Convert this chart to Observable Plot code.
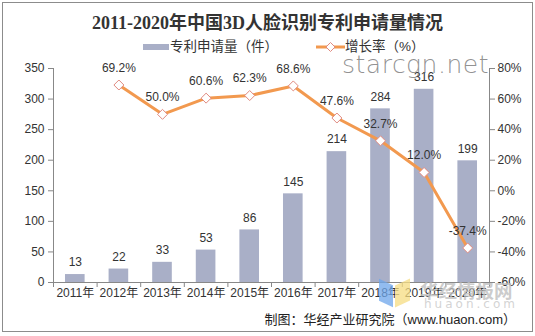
<!DOCTYPE html>
<html><head><meta charset="utf-8">
<script src="https://cdn.jsdelivr.net/npm/d3@7"></script>
<script src="https://cdn.jsdelivr.net/npm/@observablehq/plot@0.6"></script>
<style>
html,body{margin:0;padding:0;background:#fff;}
#wrap{position:relative;width:535px;height:336px;overflow:hidden;font-family:"Liberation Sans","Noto Sans CJK SC",sans-serif;}
#border{position:absolute;left:2px;top:2px;width:529px;height:328px;border:1px solid #8c8c8c;}
#title{position:absolute;left:0;top:8px;width:535px;text-align:center;font-family:"Liberation Serif","Noto Sans CJK SC",serif;font-weight:bold;font-size:18px;color:#333;}
.leg{position:absolute;top:38px;font-size:13.5px;color:#333;line-height:18px;white-space:nowrap;}
#chart{position:absolute;left:0;top:58px;}
#footer{position:absolute;right:19px;top:309px;font-size:13px;color:#222;white-space:nowrap;font-family:"Liberation Sans","Noto Sans CJK SC",sans-serif;}
.wm{position:absolute;white-space:nowrap;pointer-events:none;}
</style></head>
<body><div id="wrap">
<div id="border"></div>
<div id="title"></div>
<div id="legend"></div>
<div id="chart"></div>
<div class="wm" id="wm1" style="left:342px;top:50px;font-family:'DejaVu Sans';font-size:25px;color:rgba(110,110,110,0.75);font-weight:300;letter-spacing:0.5px;"></div>
<div class="wm" style="left:379px;top:282px;width:14px;height:22px;background:rgba(110,165,235,0.75);transform:skewY(25deg);"></div>
<div class="wm" style="left:395px;top:282px;width:15px;height:22px;background:rgba(245,220,130,0.75);transform:skewY(-25deg);"></div>
<div class="wm" id="wm2" style="left:420px;top:277px;font-family:'Noto Sans CJK SC';font-weight:bold;font-size:18.5px;color:rgba(190,190,190,0.8);"></div>
<div class="wm" id="wm3" style="left:424px;top:297px;font-family:'DejaVu Sans';font-size:12px;letter-spacing:3px;color:rgba(200,200,200,0.8);"></div>
<div id="footer"></div>
</div>
<script>
const titleText = "2011-2020年中国3D人脸识别专利申请量情况";
const barName = "专利申请量（件）";
const lineName = "增长率（%）";
const footerText = "制图：华经产业研究院（www.huaon.com）";
const years = ["2011年","2012年","2013年","2014年","2015年","2016年","2017年","2018年","2019年","2020年"];
const applications = [13,22,33,53,86,145,214,284,316,199];
const growthYears = ["2012年","2013年","2014年","2015年","2016年","2017年","2018年","2019年","2020年"];
const growth = [69.2,50.0,60.6,62.3,68.6,47.6,32.7,12.0,-37.4];
const leftTicks = [0,50,100,150,200,250,300,350];
const rightTicks = [-60,-40,-20,0,20,40,60,80];

const barColor = "#A9AFC7";
const lineColor = "#F2994F";

document.getElementById("title").textContent = titleText;
document.getElementById("footer").textContent = footerText;
document.getElementById("wm1").textContent = "starcgn.net";
document.getElementById("wm2").textContent = "华经情报网";
document.getElementById("wm3").textContent = "huaon.com";
document.getElementById("legend").innerHTML =
  `<div class="leg" style="left:143px;"><span style="display:inline-block;width:26px;height:6px;background:${barColor};vertical-align:middle;margin-right:1px;"></span>${barName}</div>` +
  `<div class="leg" style="left:316px;"><svg width="29" height="12" style="vertical-align:middle;margin-right:0px;"><line x1="0" y1="6" x2="29" y2="6" stroke="${lineColor}" stroke-width="3"/><path d="M14.5,1.5L19,6L14.5,10.5L10,6Z" fill="#fff" stroke="#E08A80" stroke-width="1"/></svg>${lineName}</div>`;

// map growth (%) onto left scale domain [0,350]
const gMin = rightTicks[0], gMax = rightTicks[rightTicks.length-1];
const lMax = leftTicks[leftTicks.length-1];
const toLeft = g => (g - gMin) / (gMax - gMin) * lMax;
const fromLeft = v => v / lMax * (gMax - gMin) + gMin;

const bars = years.map((y,i)=>({i, year:y, v:applications[i]}));
const gdata = growthYears.map((y,k)=>({i: years.indexOf(y), g: growth[k], y: toLeft(growth[k])}));
const n = years.length;
const half = 0.225;
const font = "Liberation Sans, Noto Sans CJK SC, sans-serif";

const chart = Plot.plot({
  width: 535, height: 248,
  marginLeft: 53, marginRight: 46, marginTop: 10, marginBottom: 24,
  style: {fontFamily: font, fontSize: "12px", color: "#333", background: "transparent", overflow: "visible"},
  x: {domain: [0, n]},
  y: {domain: [0, lMax]},
  marks: [
    Plot.rectY(bars, {x1: d => d.i + 0.5 - half, x2: d => d.i + 0.5 + half, y: "v", fill: barColor}),
    Plot.ruleY([0], {stroke: "#888"}),
    Plot.ruleX([0, n], {stroke: "#888"}),
    Plot.text(bars, {x: d => d.i + 0.5, y: "v", text: d => String(d.v), dy: -12, fontSize: 12, fill: "#333"}),
    Plot.line(gdata, {x: d => d.i + 0.5, y: "y", stroke: lineColor, strokeWidth: 3}),
    Plot.dot(gdata, {x: d => d.i + 0.5, y: "y", symbol: "diamond2", r: 4.5, fill: "#fff", stroke: "#E08A80", strokeWidth: 1}),
    Plot.text(gdata, {x: d => d.i + 0.5, y: "y", text: d => d.g.toFixed(1) + "%", dy: -17, fontSize: 12, fill: "#333"}),
    Plot.axisY({ticks: leftTicks, tickSize: 5, tickPadding: 4, stroke: "#888", label: null, fontSize: 12}),
    Plot.axisY({anchor: "right", ticks: rightTicks.map(toLeft), tickFormat: v => Math.round(fromLeft(v)) + "%", tickSize: 5, tickPadding: 3, stroke: "#888", label: null, fontSize: 12}),
    Plot.axisX({ticks: d3.range(0, n + 1), tickFormat: () => "", tickSize: 5, stroke: "#888", label: null}),
    Plot.axisX({ticks: d3.range(0, n).map(i => i + 0.5), tickFormat: v => years[Math.floor(v)], tickSize: 0, tickPadding: 6, label: null, fontSize: 12})
  ]
});
document.getElementById("chart").appendChild(chart);
</script>
</body></html>
